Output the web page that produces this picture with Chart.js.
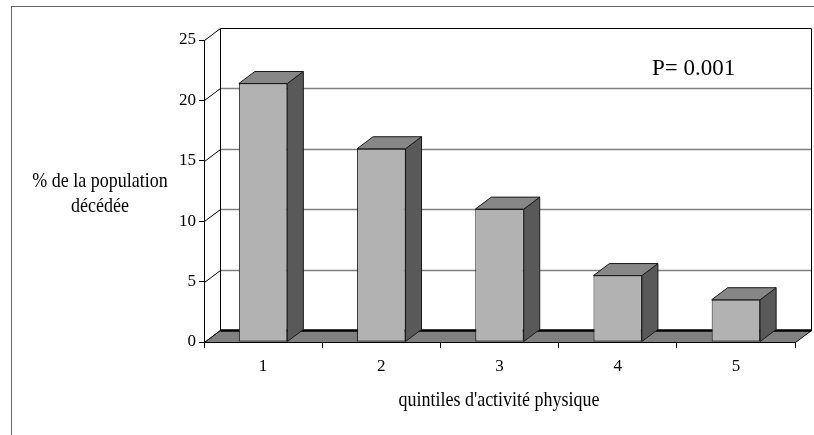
<!DOCTYPE html>
<html>
<head>
<meta charset="utf-8">
<title>quintiles d'activité physique</title>
<script src="https://cdn.jsdelivr.net/npm/chart.js@4.4.1/dist/chart.umd.min.js"></script>
<style>
    body { margin: 0; background: #fff; }
    #chartBox { position: relative; width: 814px; height: 435px; }
</style>
</head>
<body>
<div id="chartBox"><canvas id="myChart" width="814" height="435"></canvas></div>
<script>
// data
const quintiles = ['1', '2', '3', '4', '5'];
const deceased = [21.4, 16, 11, 5.5, 3.5];
const yTickValues = [0, 5, 10, 15, 20, 25];
const yTitleLines = ['% de la population', 'décédée'];
const xTitle = "quintiles d'activité physique";
const pValueText = 'P= 0.001';

// fake 3D depth (px) of the walls and of the bars
const DEPTH_X = 16;
const DEPTH_Y = -12;
const SERIF = "'Liberation Serif', 'Times New Roman', serif";

// fill and/or stroke a closed polygon
function poly(ctx, pts, fill, stroke, lw) {
    ctx.beginPath();
    ctx.moveTo(pts[0][0], pts[0][1]);
    for (let i = 1; i < pts.length; i++) ctx.lineTo(pts[i][0], pts[i][1]);
    ctx.closePath();
    if (fill) { ctx.fillStyle = fill; ctx.fill(); }
    if (stroke) { ctx.strokeStyle = stroke; ctx.lineWidth = lw || 1; ctx.stroke(); }
}

function line(ctx, x1, y1, x2, y2, color, lw) {
    ctx.beginPath();
    ctx.moveTo(x1, y1);
    ctx.lineTo(x2, y2);
    ctx.strokeStyle = color;
    ctx.lineWidth = lw;
    ctx.stroke();
}

// the text in the picture is a bit taller than normal Times
function stretchedText(ctx, text, x, y, size, sy) {
    ctx.save();
    ctx.translate(x, y);
    ctx.scale(1, sy);
    ctx.font = size + 'px ' + SERIF;
    ctx.fillStyle = '#000';
    ctx.textAlign = 'center';
    ctx.textBaseline = 'alphabetic';
    ctx.fillText(text, 0, 0);
    ctx.restore();
}

const box3d = {
    id: 'box3d',
    beforeDraw(chart) {
        const ctx = chart.ctx;
        ctx.save();
        ctx.strokeStyle = '#666';
        ctx.lineWidth = 1;
        ctx.strokeRect(11.5, 6.5, 900, 500);
        ctx.restore();
    },
    beforeDatasetsDraw(chart) {
        const { ctx, chartArea: a, scales } = chart;
        const y = scales.y;
        const L = a.left + 0.5, R = a.right + 0.5, B = a.bottom + 0.5;
        ctx.save();
        // gridlines on the back wall
        yTickValues.forEach(v => {
            if (v === 0 || v === 25) return;
            const py = Math.round(y.getPixelForValue(v)) + DEPTH_Y + 0.5;
            line(ctx, L + DEPTH_X, py, R + DEPTH_X, py, '#808080', 1.5);
        });
        // diagonals on the left wall
        yTickValues.forEach(v => {
            const py = Math.round(y.getPixelForValue(v)) + 0.5;
            line(ctx, L, py, L + DEPTH_X, py + DEPTH_Y, '#000', 1);
        });
        // back wall edges
        const top = Math.round(y.getPixelForValue(25)) + DEPTH_Y + 0.5;
        line(ctx, L + DEPTH_X, top, L + DEPTH_X, B + DEPTH_Y, '#000', 1);
        line(ctx, L + DEPTH_X, top, R + DEPTH_X, top, '#000', 1);
        line(ctx, R + DEPTH_X, top, R + DEPTH_X, B + DEPTH_Y, '#000', 1);
        // floor
        poly(ctx, [[L, B], [R, B], [R + DEPTH_X, B + DEPTH_Y], [L + DEPTH_X, B + DEPTH_Y]], '#808080', '#000', 1);
        line(ctx, L + DEPTH_X, B + DEPTH_Y, R + DEPTH_X, B + DEPTH_Y, '#000', 2.5);
        line(ctx, L, B, R, B, '#000', 1);
        ctx.restore();
    },
    afterDatasetsDraw(chart) {
        const ctx = chart.ctx;
        ctx.save();
        ctx.lineJoin = 'round';
        chart.getDatasetMeta(0).data.forEach(bar => {
            const left = bar.x - bar.width / 2;
            const right = bar.x + bar.width / 2;
            const top = bar.y;
            const base = bar.base;
            // side face
            poly(ctx, [[right, top], [right + DEPTH_X, top + DEPTH_Y], [right + DEPTH_X, base + DEPTH_Y], [right, base]], '#595959', '#1a1a1a', 1);
            // top face
            poly(ctx, [[left, top], [right, top], [right + DEPTH_X, top + DEPTH_Y], [left + DEPTH_X, top + DEPTH_Y]], '#878787', '#1a1a1a', 1);
        });
        ctx.restore();
    },
    afterDraw(chart) {
        const ctx = chart.ctx;
        // axis titles and the p value
        stretchedText(ctx, yTitleLines[0], 100, 186.5, 18, 1.15);
        stretchedText(ctx, yTitleLines[1], 100, 211.5, 18, 1.15);
        stretchedText(ctx, xTitle, 499, 405.5, 18, 1.15);
        ctx.save();
        ctx.font = '23px ' + SERIF;
        ctx.fillStyle = '#000';
        ctx.textAlign = 'left';
        ctx.textBaseline = 'alphabetic';
        ctx.fillText(pValueText, 652, 75);
        ctx.restore();
    }
};

const ctx = document.getElementById('myChart').getContext('2d');
const myChart = new Chart(ctx, {
    type: 'bar',
    data: {
        labels: quintiles,
        datasets: [{
            data: deceased,
            backgroundColor: '#b2b2b2',
            borderColor: '#1a1a1a',
            borderWidth: 1,
            borderSkipped: false,
            barPercentage: 0.41,
            categoryPercentage: 1
        }]
    },
    options: {
        responsive: false,
        animation: false,
        layout: { padding: { top: 40, right: 19, left: 0, bottom: 0 } },
        plugins: {
            legend: { display: false },
            tooltip: { enabled: false }
        },
        scales: {
            x: {
                afterFit: s => { s.height = 93; },
                grid: { offset: true, drawOnChartArea: false, tickLength: 6, color: '#000' },
                border: { display: true, color: '#000' },
                ticks: { color: '#000', padding: 8, font: { family: SERIF, size: 17 } }
            },
            y: {
                min: yTickValues[0],
                max: yTickValues[yTickValues.length - 1],
                afterFit: s => { s.width = 204; },
                afterBuildTicks: s => { s.ticks = yTickValues.map(v => ({ value: v })); },
                grid: { drawOnChartArea: false, tickLength: 5, color: '#000' },
                border: { display: true, color: '#000' },
                ticks: { color: '#000', padding: 3, font: { family: SERIF, size: 17 } }
            }
        }
    },
    plugins: [box3d]
});
</script>
</body>
</html>
